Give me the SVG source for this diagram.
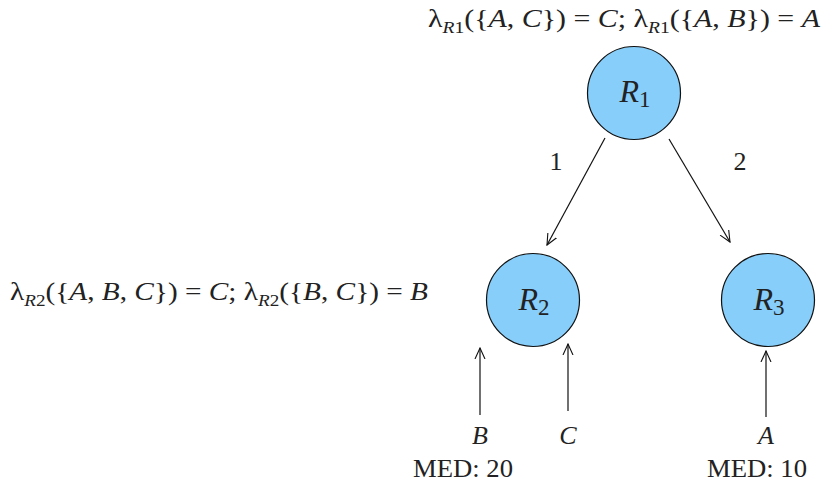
<svg xmlns="http://www.w3.org/2000/svg" width="823" height="482" viewBox="0 0 823 482">
<style>
text{font-family:"Liberation Serif","DejaVu Serif",serif;fill:#222}
.it{font-style:italic}
.node{fill:#87cefa;stroke:#111;stroke-width:1.2}
.edge{stroke:#111;stroke-width:1.2;fill:none;marker-end:url(#ah)}
.sub{font-size:17px}
</style>
<defs>
<marker id="ah" viewBox="0 0 12 12" refX="11" refY="6" markerWidth="12" markerHeight="12" markerUnits="userSpaceOnUse" orient="auto">
<path d="M0,1 L11,6 L0,11" fill="none" stroke="#111" stroke-width="1.1"/>
</marker>
</defs>
<rect width="823" height="482" fill="#fff"/>
<g id="label-top">
<text x="428" y="27" font-size="26" textLength="392" lengthAdjust="spacingAndGlyphs">λ<tspan class="it sub" dy="6">R</tspan><tspan class="sub">1</tspan><tspan dy="-6">({</tspan><tspan class="it">A</tspan>, <tspan class="it">C</tspan>}) = <tspan class="it">C</tspan>; λ<tspan class="it sub" dy="6">R</tspan><tspan class="sub">1</tspan><tspan dy="-6">({</tspan><tspan class="it">A</tspan>, <tspan class="it">B</tspan>}) = <tspan class="it">A</tspan></text>
</g>
<g id="label-left">
<text x="10" y="300" font-size="26" textLength="418" lengthAdjust="spacingAndGlyphs">λ<tspan class="it sub" dy="6">R</tspan><tspan class="sub">2</tspan><tspan dy="-6">({</tspan><tspan class="it">A</tspan>, <tspan class="it">B</tspan>, <tspan class="it">C</tspan>}) = <tspan class="it">C</tspan>; λ<tspan class="it sub" dy="6">R</tspan><tspan class="sub">2</tspan><tspan dy="-6">({</tspan><tspan class="it">B</tspan>, <tspan class="it">C</tspan>}) = <tspan class="it">B</tspan></text>
</g>
<g id="R1">
<circle class="node" cx="634" cy="93" r="46.5"/>
<text x="635" y="102" font-size="32" text-anchor="middle"><tspan class="it">R</tspan><tspan font-size="23" dy="5">1</tspan></text>
</g>
<g id="R2">
<circle class="node" cx="533" cy="300" r="46.5"/>
<text x="534" y="310" font-size="32" text-anchor="middle"><tspan class="it">R</tspan><tspan font-size="23" dy="5">2</tspan></text>
</g>
<g id="R3">
<circle class="node" cx="768" cy="300" r="46.5"/>
<text x="769" y="310" font-size="32" text-anchor="middle"><tspan class="it">R</tspan><tspan font-size="23" dy="5">3</tspan></text>
</g>
<g id="connectors">
<line class="edge" x1="605" y1="138" x2="547" y2="245"/>
<line class="edge" x1="669" y1="139" x2="730" y2="242"/>
<line class="edge" x1="480" y1="415" x2="480" y2="348"/>
<line class="edge" x1="568" y1="411" x2="568" y2="344"/>
<line class="edge" x1="766" y1="417" x2="766" y2="351"/>
<text x="556" y="170" font-size="26" text-anchor="middle">1</text>
<text x="740" y="170" font-size="26" text-anchor="middle">2</text>
</g>
<g id="inputs">
<text class="it" x="480" y="444" font-size="26" text-anchor="middle">B</text>
<text class="it" x="568" y="444" font-size="26" text-anchor="middle">C</text>
<text class="it" x="766" y="444" font-size="26" text-anchor="middle">A</text>
<text x="463" y="477" font-size="26" text-anchor="middle" textLength="100" lengthAdjust="spacingAndGlyphs">MED: 20</text>
<text x="757" y="477" font-size="26" text-anchor="middle" textLength="100" lengthAdjust="spacingAndGlyphs">MED: 10</text>
</g>
</svg>
